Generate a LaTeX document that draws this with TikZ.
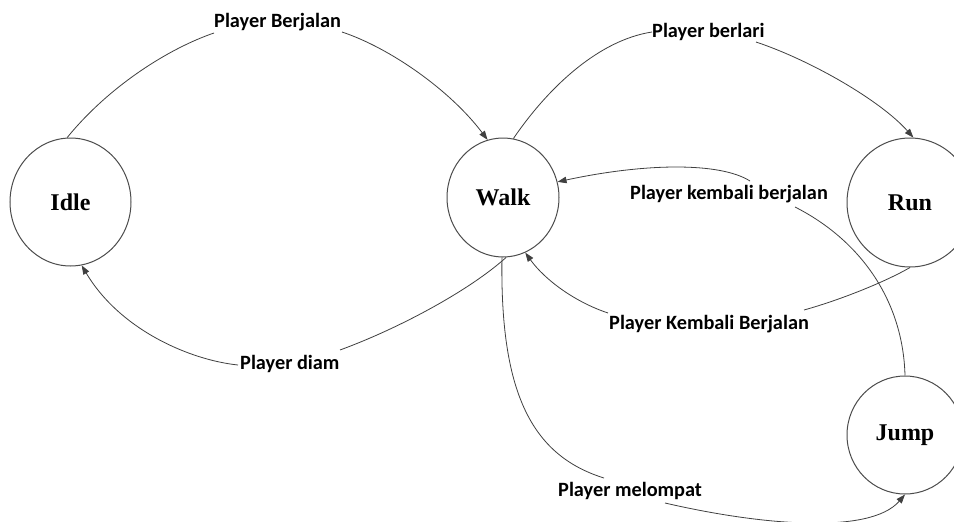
\documentclass[tikz,border=0pt]{standalone}
\usepackage{fontspec}
\setmainfont{Liberation Serif}
\newfontfamily\lblfont{Carlito}
\usetikzlibrary{arrows.meta,shapes.geometric}
\begin{document}
\begin{tikzpicture}[x=1pt,y=-1pt,
  state/.style={ellipse, draw=black!70, line width=1pt, inner sep=0pt,
    font=\bfseries\fontsize{24}{27}\selectfont},
  lbl/.style={font=\lblfont\bfseries\fontsize{20.3}{23}\selectfont, text=black, inner sep=0pt, anchor=base west},
  tr/.style={draw=black!75, line width=0.8pt},
  arr/.style={tr, -{Triangle[length=9pt,width=6.5pt]}}]
\clip (0,0) rectangle (954,522);
\fill[white] (0,0) rectangle (954,522);
% states
\node[state, minimum width=121pt, minimum height=128pt] (idle) at (70.5,202) {Idle};
\node[state, minimum width=112pt, minimum height=119pt] (walk) at (503,197.5) {Walk};
\node[state, minimum width=126pt, minimum height=129pt] (run) at (910,202.5) {Run};
\node[state, minimum width=116pt, minimum height=118pt] (jump) at (905,435) {Jump};
% labels
\node[lbl] (l1) at (214,27.5) {Player Berjalan};
\node[lbl] (l2) at (652,37.5) {Player berlari};
\node[lbl] (l3) at (630,199) {Player kembali berjalan};
\node[lbl] (l4) at (609,329) {Player Kembali Berjalan};
\node[lbl] (l5) at (240,369) {Player diam};
\node[lbl] (l6) at (558,496) {Player melompat};
% break points beside the labels
\coordinate (c1a) at (214,33);  \coordinate (c1b) at (342,32);
\coordinate (c2a) at (652,32);  \coordinate (c2b) at (756,42);
\coordinate (c3a) at (795,207); \coordinate (c3b) at (750,181);
\coordinate (c4a) at (804,310); \coordinate (c4b) at (608,313);
\coordinate (c5a) at (340,350); \coordinate (c5b) at (238,365);
\coordinate (c6a) at (604,478); \coordinate (c6b) at (665,503);
% transitions
\draw[tr] (idle.93) .. controls (110,85) and (170,48) .. (c1a);
\draw[arr] (c1b) .. controls (390,48) and (450,90) .. (walk.105);
\draw[tr] (walk.80) .. controls (550,85) and (600,40) .. (c2a);
\draw[arr] (c2b) .. controls (810,60) and (880,100) .. (run.87);
\draw[tr] (jump.90) .. controls (903,300) and (860,240) .. (c3a);
\draw[arr] (c3b) .. controls (720,162) and (645,163) .. (walk.16);
\draw[tr] (run.270) .. controls (885,282) and (840,300) .. (c4a);
\draw[arr] (c4b) .. controls (575,302) and (545,280) .. (walk.292);
\draw[tr] (walk.273) .. controls (470,290) and (400,328) .. (c5a);
\draw[arr] (c5b) .. controls (190,360) and (120,330) .. (idle.280);
\draw[tr] (walk.269) .. controls (500,390) and (530,455) .. (c6a);
\draw[arr] (c6b) .. controls (760,525) and (870,535) .. (jump.270);
\end{tikzpicture}
\end{document}
